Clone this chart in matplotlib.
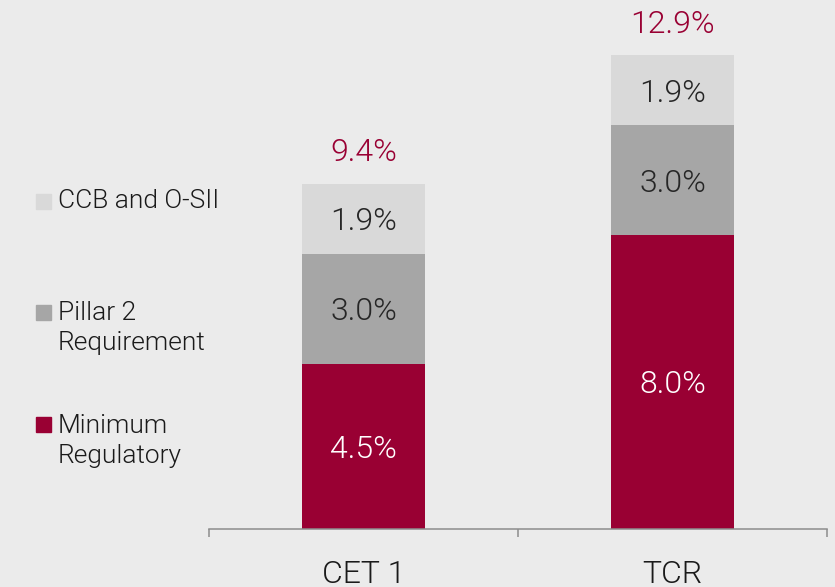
import matplotlib.pyplot as plt
from matplotlib.patches import Rectangle

plt.rcParams['font.family'] = ['Roboto', 'DejaVu Sans']

categories = ['CET 1', 'TCR']
minimum = [4.5, 8.0]
pillar2 = [3.0, 3.0]
buffers = [1.9, 1.9]
totals = [9.4, 12.9]
legend_labels = ['CCB and O-SII', 'Pillar 2\nRequirement', 'Minimum\nRegulatory']

red = '#990033'
mid = '#A6A6A6'
light = '#D9D9D9'
bg = '#EBEBEB'
fw = 300

fig = plt.figure(figsize=(8.35, 5.87), dpi=100, facecolor=bg)
ax = fig.add_axes([0.2503, 0.0988, 0.7401, 0.9012])
ax.set_facecolor(bg)

x = [0, 1]
w = 0.4
ax.bar(x, minimum, w, color=red)
ax.bar(x, pillar2, w, bottom=minimum, color=mid)
base3 = [m + p for m, p in zip(minimum, pillar2)]
ax.bar(x, buffers, w, bottom=base3, color=light)

for vals, bottoms, col in [(minimum, [0, 0], 'white'),
                           (pillar2, minimum, '#262626'),
                           (buffers, base3, '#262626')]:
    for i, v in enumerate(vals):
        ax.annotate(f'{v:.1f}%', (x[i], bottoms[i] + v / 2), xytext=(0, -2),
                    textcoords='offset points', ha='center', va='center',
                    fontsize=23, color=col, fontweight=fw)

for i, t in enumerate(totals):
    ax.annotate(f'{t:.1f}%', (x[i], t), xytext=(0, 22.5), textcoords='offset points',
                ha='center', va='center', fontsize=23, color=red, fontweight=fw)

ax.set_xlim(-0.5, 1.5)
ax.set_ylim(0, 14.41)
ax.set_xticks(x)
ax.set_xticklabels(categories, fontsize=23, fontweight=fw, color='#1a1a1a')
ax.set_xticks([-0.5, 0.5, 1.5], minor=True)
ax.tick_params(axis='x', which='major', length=0, pad=22)
ax.tick_params(axis='x', which='minor', length=6, width=1.1, color='#8C8C8C')
ax.set_yticks([])
for s in ['top', 'right', 'left']:
    ax.spines[s].set_visible(False)
ax.spines['bottom'].set_color('#8C8C8C')
ax.spines['bottom'].set_linewidth(1.1)

# legend drawn by hand on the left
W, H = 835, 587
sq_y = [194, 305, 417]
txt_y = [201, 328, 441]
for lab, col, sy, ty in zip(legend_labels, [light, mid, red], sq_y, txt_y):
    fig.patches.append(Rectangle((36 / W, 1 - (sy + 15) / H), 15 / W, 15 / H,
                                 transform=fig.transFigure, color=col))
    fig.text(58 / W, 1 - ty / H, lab, ha='left', va='center',
             fontsize=19, fontweight=fw, color='#1a1a1a', linespacing=1.35)

fig.savefig('out.png', dpi=100, facecolor=bg)
